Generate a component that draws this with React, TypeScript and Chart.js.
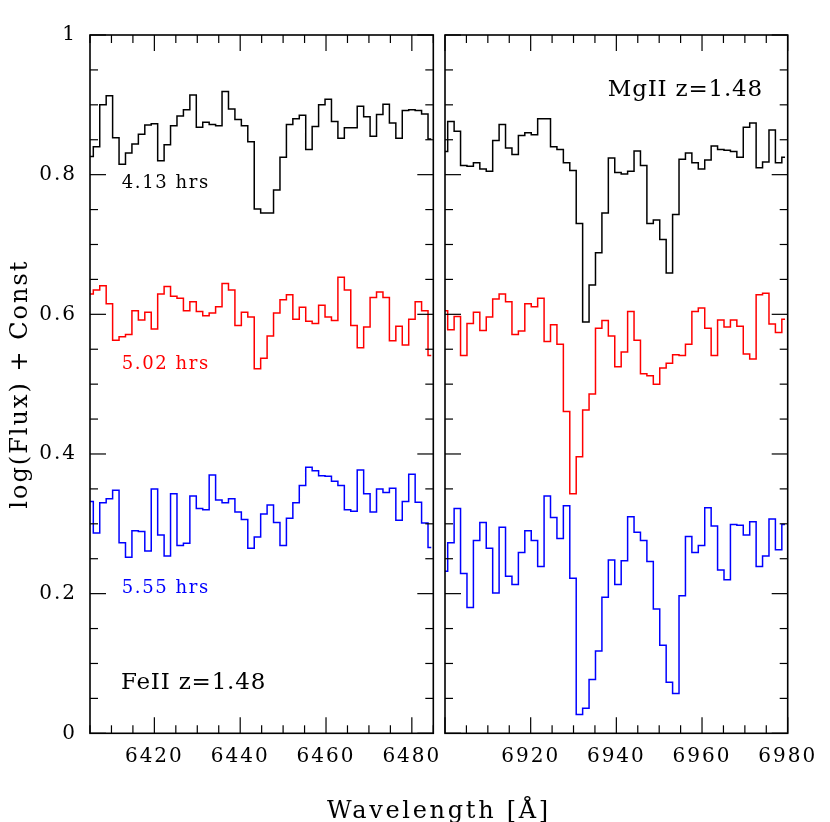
import React, { useEffect, useRef } from 'react';
import { Chart, registerables } from 'chart.js';

Chart.register(...registerables);

// ---------- data ----------
const BIN_WIDTH = 1.5; // Angstrom per spectral bin
const FE_FIRST_CENTER = 6405.02;
const MG_FIRST_CENTER = 6899.88;

const FE_RANGE = [6405, 6485];
const MG_RANGE = [6900, 6980];
const FE_X_TICKS = [6420, 6440, 6460, 6480];
const MG_X_TICKS = [6920, 6940, 6960, 6980];
const Y_TICKS = [0, 0.2, 0.4, 0.6, 0.8, 1];

const SERIES_NAMES = ['4.13 hrs', '5.02 hrs', '5.55 hrs'];
const SERIES_COLORS = ['#000000', '#ff0000', '#0000ff'];

// FeII panel
const FE_413 = [
  0.826, 0.840, 0.900, 0.913, 0.853, 0.815, 0.831, 0.844, 0.858, 0.871,
  0.873, 0.820, 0.843, 0.870, 0.884, 0.893, 0.914, 0.868, 0.875, 0.872,
  0.870, 0.919, 0.894, 0.879, 0.870, 0.847, 0.751, 0.745, 0.745, 0.778,
  0.825, 0.872, 0.880, 0.885, 0.836, 0.869, 0.900, 0.908, 0.876, 0.852,
  0.867, 0.867, 0.898, 0.883, 0.855, 0.886, 0.901, 0.874, 0.852, 0.892,
  0.893, 0.892, 0.887, 0.851,
];
const FE_502 = [
  0.629, 0.635, 0.641, 0.615, 0.563, 0.568, 0.571, 0.605, 0.592, 0.603,
  0.579, 0.629, 0.640, 0.626, 0.623, 0.605, 0.618, 0.604, 0.598, 0.602,
  0.611, 0.644, 0.635, 0.584, 0.603, 0.596, 0.522, 0.537, 0.569, 0.602,
  0.621, 0.628, 0.593, 0.610, 0.590, 0.587, 0.613, 0.596, 0.591, 0.653,
  0.635, 0.584, 0.552, 0.582, 0.624, 0.632, 0.624, 0.562, 0.583, 0.556,
  0.593, 0.618, 0.605, 0.541,
];
const FE_555 = [
  0.332, 0.287, 0.330, 0.336, 0.348, 0.273, 0.252, 0.290, 0.289, 0.261,
  0.350, 0.284, 0.254, 0.343, 0.269, 0.272, 0.340, 0.322, 0.320, 0.370,
  0.334, 0.330, 0.336, 0.317, 0.306, 0.265, 0.281, 0.314, 0.327, 0.302,
  0.269, 0.308, 0.330, 0.355, 0.381, 0.376, 0.369, 0.368, 0.361, 0.355,
  0.320, 0.318, 0.377, 0.343, 0.317, 0.350, 0.345, 0.351, 0.305, 0.332,
  0.371, 0.331, 0.301, 0.266,
];

// MgII panel
const MG_413 = [
  0.833, 0.876, 0.862, 0.813, 0.812, 0.817, 0.808, 0.805, 0.849, 0.872,
  0.838, 0.829, 0.856, 0.860, 0.857, 0.880, 0.880, 0.840, 0.836, 0.817,
  0.806, 0.730, 0.589, 0.642, 0.688, 0.745, 0.824, 0.803, 0.801, 0.805,
  0.834, 0.813, 0.730, 0.735, 0.707, 0.659, 0.743, 0.822, 0.831, 0.817,
  0.808, 0.821, 0.841, 0.836, 0.835, 0.833, 0.825, 0.868, 0.874, 0.810,
  0.818, 0.864, 0.817, 0.825,
];
const MG_502 = [
  0.605, 0.578, 0.597, 0.541, 0.587, 0.603, 0.577, 0.596, 0.622, 0.629,
  0.618, 0.571, 0.576, 0.615, 0.611, 0.623, 0.561, 0.585, 0.557, 0.461,
  0.343, 0.396, 0.463, 0.486, 0.580, 0.591, 0.569, 0.525, 0.546, 0.604,
  0.563, 0.515, 0.512, 0.500, 0.523, 0.530, 0.542, 0.541, 0.557, 0.604,
  0.609, 0.580, 0.541, 0.592, 0.582, 0.592, 0.583, 0.543, 0.536, 0.628,
  0.630, 0.586, 0.574, 0.593,
];
const MG_555 = [
  0.232, 0.273, 0.322, 0.229, 0.180, 0.276, 0.302, 0.265, 0.201, 0.295,
  0.225, 0.213, 0.259, 0.290, 0.276, 0.239, 0.340, 0.309, 0.279, 0.326,
  0.222, 0.027, 0.036, 0.077, 0.118, 0.195, 0.248, 0.213, 0.247, 0.310,
  0.288, 0.276, 0.246, 0.178, 0.126, 0.073, 0.057, 0.197, 0.282, 0.259,
  0.269, 0.323, 0.297, 0.234, 0.220, 0.299, 0.298, 0.284, 0.303, 0.239,
  0.254, 0.307, 0.263, 0.299,
];

const FE_LABEL = 'FeII z=1.48';
const MG_LABEL = 'MgII z=1.48';
const Y_TITLE = 'log(Flux) + Const';
const X_TITLE = 'Wavelength [Å]';

// ---------- layout / style ----------
const W = 830;
const H = 822;
const PLOT_TOP = 35;
const PLOT_BOTTOM = 733.3;
const LEFT_L = 90;
const LEFT_R = 433.3;
const RIGHT_L = 445;
const RIGHT_R = 787.7;
const FONT = '"DejaVu Serif", serif';

type Note = { text: string; x: number; y: number; color: string; size: number; spacing: number };

const FE_NOTES: Note[] = [
  { text: SERIES_NAMES[0], x: 6412.4, y: 0.788, color: SERIES_COLORS[0], size: 18, spacing: 1.6 },
  { text: SERIES_NAMES[1], x: 6412.4, y: 0.529, color: SERIES_COLORS[1], size: 18, spacing: 1.6 },
  { text: SERIES_NAMES[2], x: 6412.4, y: 0.208, color: SERIES_COLORS[2], size: 18, spacing: 1.6 },
  { text: FE_LABEL, x: 6412.2, y: 0.072, color: '#000', size: 23, spacing: 0.8 },
];
const MG_NOTES: Note[] = [
  { text: MG_LABEL, x: 6938.0, y: 0.921, color: '#000', size: 23, spacing: 0.8 },
];

const toPoints = (vals: number[], first: number) =>
  vals.map((y, i) => ({ x: first + i * BIN_WIDTH, y }));

const spacingPlugin = {
  id: 'spacing',
  beforeDraw(chart: any) {
    (chart.ctx as any).letterSpacing = '2px';
  },
};

const framePlugin = {
  id: 'frameTicks',
  afterDraw(chart: any) {
    const { ctx, chartArea: a } = chart;
    const xs = chart.scales.x;
    const ys = chart.scales.y;
    ctx.save();
    ctx.strokeStyle = '#000';
    ctx.lineWidth = 1.2;
    const seg = (x1: number, y1: number, x2: number, y2: number) => {
      ctx.beginPath();
      ctx.moveTo(x1, y1);
      ctx.lineTo(x2, y2);
      ctx.stroke();
    };
    for (let v = Math.ceil(xs.min / 5) * 5; v <= xs.max + 1e-6; v += 5) {
      const px = xs.getPixelForValue(v);
      const len = v % 20 === 0 ? 16 : 8;
      seg(px, a.bottom, px, a.bottom - len);
      seg(px, a.top, px, a.top + len);
    }
    for (let i = 0; i <= 20; i++) {
      const py = ys.getPixelForValue(i * 0.05);
      const len = i % 4 === 0 ? 16 : 8;
      seg(a.left, py, a.left + len, py);
      seg(a.right, py, a.right - len, py);
    }
    ctx.lineWidth = 1.6;
    ctx.strokeRect(a.left, a.top, a.right - a.left, a.bottom - a.top);
    ctx.restore();
  },
};

const makeNotesPlugin = (notes: Note[], withXTitle: boolean) => ({
  id: 'notes',
  afterDraw(chart: any) {
    const { ctx } = chart;
    const xs = chart.scales.x;
    const ys = chart.scales.y;
    ctx.save();
    ctx.textAlign = 'left';
    ctx.textBaseline = 'middle';
    for (const n of notes) {
      ctx.font = `${n.size}px ${FONT}`;
      (ctx as any).letterSpacing = `${n.spacing}px`;
      ctx.fillStyle = n.color;
      ctx.fillText(n.text, xs.getPixelForValue(n.x), ys.getPixelForValue(n.y));
    }
    if (withXTitle) {
      ctx.font = `24px ${FONT}`;
      (ctx as any).letterSpacing = '2.7px';
      ctx.fillStyle = '#000';
      ctx.textAlign = 'center';
      ctx.textBaseline = 'alphabetic';
      ctx.fillText(X_TITLE, (LEFT_L + RIGHT_R) / 2, 818);
    }
    ctx.restore();
  },
});

function makeConfig(isLeft: boolean): any {
  const range = isLeft ? FE_RANGE : MG_RANGE;
  const first = isLeft ? FE_FIRST_CENTER : MG_FIRST_CENTER;
  const series = isLeft ? [FE_413, FE_502, FE_555] : [MG_413, MG_502, MG_555];
  const xticks = isLeft ? FE_X_TICKS : MG_X_TICKS;
  return {
    type: 'line',
    data: {
      datasets: series.map((vals, i) => ({
        label: SERIES_NAMES[i],
        data: toPoints(vals, first),
        borderColor: SERIES_COLORS[i],
        borderWidth: 1.5,
        pointRadius: 0,
        stepped: 'middle',
        fill: false,
        clip: 0,
      })),
    },
    options: {
      responsive: false,
      animation: false,
      events: [],
      layout: {
        padding: isLeft
          ? { left: 0, top: PLOT_TOP, right: W - LEFT_R, bottom: 0 }
          : { left: RIGHT_L, top: PLOT_TOP, right: W - RIGHT_R, bottom: 0 },
      },
      plugins: { legend: { display: false }, tooltip: { enabled: false } },
      scales: {
        x: {
          type: 'linear',
          min: range[0],
          max: range[1],
          grid: { display: false, drawTicks: false },
          border: { display: false },
          afterBuildTicks: (s: any) => {
            s.ticks = xticks.map((v) => ({ value: v }));
          },
          ticks: {
            font: { family: FONT, size: 20 },
            color: '#000',
            padding: 11,
            maxRotation: 0,
            autoSkip: false,
            callback: (v: any) => String(v),
          },
          afterFit: (s: any) => {
            s.height = H - PLOT_BOTTOM;
          },
        },
        y: {
          type: 'linear',
          display: isLeft,
          min: 0,
          max: 1,
          grid: { display: false, drawTicks: false },
          border: { display: false },
          afterBuildTicks: (s: any) => {
            s.ticks = Y_TICKS.map((v) => ({ value: v }));
          },
          ticks: {
            font: { family: FONT, size: 20 },
            color: '#000',
            padding: 13,
            autoSkip: false,
            callback: (v: any) => String(v),
          },
          title: {
            display: true,
            text: Y_TITLE,
            color: '#000',
            font: { family: FONT, size: 24 },
            padding: { top: 6, bottom: 0 },
          },
          afterFit: (s: any) => {
            if (isLeft) s.width = LEFT_L;
          },
        },
      },
    },
    plugins: [spacingPlugin, framePlugin, makeNotesPlugin(isLeft ? FE_NOTES : MG_NOTES, isLeft)],
  };
}

export default function App() {
  const leftRef = useRef<HTMLCanvasElement>(null);
  const rightRef = useRef<HTMLCanvasElement>(null);
  useEffect(() => {
    const left = new Chart(leftRef.current as HTMLCanvasElement, makeConfig(true));
    const right = new Chart(rightRef.current as HTMLCanvasElement, makeConfig(false));
    return () => {
      left.destroy();
      right.destroy();
    };
  }, []);
  return (
    <div style={{ position: 'absolute', left: 0, top: 0, width: W, height: H, background: '#fff' }}>
      <canvas ref={leftRef} width={W} height={H} style={{ position: 'absolute', left: 0, top: 0 }} />
      <canvas ref={rightRef} width={W} height={H} style={{ position: 'absolute', left: 0, top: 0 }} />
    </div>
  );
}
